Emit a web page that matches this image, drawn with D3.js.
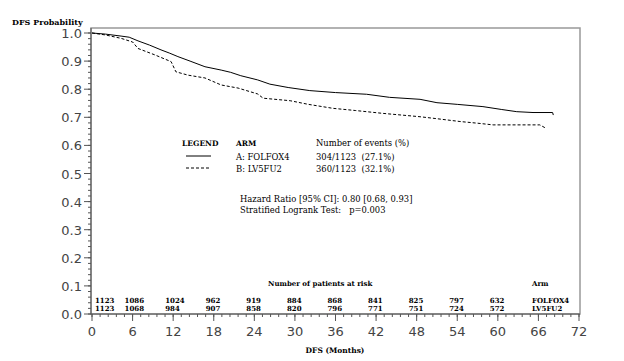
<!DOCTYPE html>
<html>
<head>
<meta charset="utf-8">
<script src="https://cdn.jsdelivr.net/npm/d3@7"></script>
<style>
  body { margin: 0; background: #fff; }
  .serif { font-family: "DejaVu Serif", serif; fill: #000; }
  .tick-label { font-family: "DejaVu Sans", sans-serif; font-size: 13px; fill: #444; }
</style>
</head>
<body>
<div id="chart"></div>
<script>
// Kaplan-Meier estimates
const monthsA = [0, 2, 4.3, 5.5, 6.8, 8.5, 10.2, 11.5, 12.7, 14.5, 16.7, 19.1, 20.5, 22, 24.5, 26.3, 29, 32.2, 36, 40.6, 44, 48.5, 51, 54, 57.8, 60.5, 62.8, 65.2, 68.1, 68.2];
const survA = [1.0, 0.996, 0.989, 0.985, 0.972, 0.957, 0.94, 0.928, 0.916, 0.9, 0.88, 0.868, 0.86, 0.848, 0.833, 0.818, 0.806, 0.795, 0.788, 0.782, 0.771, 0.764, 0.752, 0.746, 0.738, 0.728, 0.72, 0.717, 0.717, 0.708];
const monthsB = [0, 2, 4.3, 6.0, 6.8, 9.3, 11.7, 12.4, 14.2, 16.7, 19.1, 21.6, 24.5, 25.3, 29.3, 32, 35.6, 39, 43, 48.5, 51, 54.4, 57, 59.3, 66.2, 67.2];
const survB = [1.0, 0.993, 0.981, 0.968, 0.945, 0.922, 0.898, 0.862, 0.85, 0.84, 0.815, 0.804, 0.783, 0.768, 0.759, 0.746, 0.732, 0.724, 0.714, 0.702, 0.695, 0.685, 0.679, 0.673, 0.673, 0.66];

const riskTimes = [0, 6, 12, 18, 24, 30, 36, 42, 48, 54, 60];
const riskA = [1123, 1086, 1024, 962, 919, 884, 868, 841, 825, 797, 632];
const riskB = [1123, 1068, 984, 907, 858, 820, 796, 771, 751, 724, 572];

const armNames = ['A: FOLFOX4', 'B: LV5FU2'];
const armShort = ['FOLFOX4', 'LV5FU2'];
const events = ['304/1123  (27.1%)', '360/1123  (32.1%)'];

const W = 624, H = 361;
const plotLeft = 91, plotRight = 580, plotTop = 28, plotBottom = 314;

const svg = d3.select('#chart').append('svg')
  .attr('width', W)
  .attr('height', H);

svg.append('rect').attr('width', W).attr('height', H).attr('fill', '#fff');

const x = d3.scaleLinear().domain([0, 72]).range([plotLeft + 1, plotRight - 1]);
const y = d3.scaleLinear().domain([0, 1]).range([plotBottom, 33]);

// frame
svg.append('rect')
  .attr('x', plotLeft).attr('y', plotTop)
  .attr('width', plotRight - plotLeft).attr('height', plotBottom - plotTop)
  .attr('fill', 'none')
  .attr('stroke', '#999')
  .attr('stroke-width', 1.5);

// y axis
const yAxis = svg.append('g').attr('transform', `translate(${plotLeft},0)`);
yAxis.append('line').attr('y1', plotTop).attr('y2', plotBottom).attr('stroke', '#555');
yAxis.selectAll('.minor')
  .data(d3.range(0, 1.001, 0.02))
  .enter().append('line')
  .attr('x1', -3).attr('x2', 0)
  .attr('y1', d => y(d)).attr('y2', d => y(d))
  .attr('stroke', '#555');
const yMajor = d3.range(0, 11).map(i => i / 10);
yAxis.selectAll('.major')
  .data(yMajor)
  .enter().append('line')
  .attr('x1', -7).attr('x2', 0)
  .attr('y1', d => y(d)).attr('y2', d => y(d))
  .attr('stroke', '#555');
yAxis.selectAll('text')
  .data(yMajor)
  .enter().append('text')
  .attr('class', 'tick-label')
  .attr('x', -9)
  .attr('y', d => y(d) + 5)
  .attr('text-anchor', 'end')
  .text(d3.format('.1f'));

// x axis
const xAxis = svg.append('g').attr('transform', `translate(0,${plotBottom})`);
xAxis.append('line').attr('x1', plotLeft).attr('x2', plotRight).attr('stroke', '#555');
xAxis.selectAll('.minor')
  .data(d3.range(0, 72.01, 1.2))
  .enter().append('line')
  .attr('x1', d => x(d)).attr('x2', d => x(d))
  .attr('y1', 0).attr('y2', 3)
  .attr('stroke', '#555');
const xMajor = d3.range(0, 73, 6);
xAxis.selectAll('.major')
  .data(xMajor)
  .enter().append('line')
  .attr('x1', d => x(d)).attr('x2', d => x(d))
  .attr('y1', 0).attr('y2', 7)
  .attr('stroke', '#555');
xAxis.selectAll('text')
  .data(xMajor)
  .enter().append('text')
  .attr('class', 'tick-label')
  .attr('x', d => x(d))
  .attr('y', 22)
  .attr('text-anchor', 'middle')
  .text(d => d);

// axis titles
svg.append('text').attr('class', 'serif')
  .attr('x', 12).attr('y', 25)
  .style('font-size', '8px').style('font-weight', 'bold')
  .text('DFS Probability');
svg.append('text').attr('class', 'serif')
  .attr('x', 335).attr('y', 353)
  .attr('text-anchor', 'middle')
  .style('font-size', '7.5px').style('font-weight', 'bold')
  .text('DFS (Months)');

// curves
const line = d3.line()
  .x(d => x(d[0]))
  .y(d => y(d[1]));

svg.append('path')
  .datum(monthsA.map((m, i) => [m, survA[i]]))
  .attr('d', line)
  .attr('fill', 'none')
  .attr('stroke', '#000')
  .attr('stroke-width', 1);

svg.append('path')
  .datum(monthsB.map((m, i) => [m, survB[i]]))
  .attr('d', line)
  .attr('fill', 'none')
  .attr('stroke', '#000')
  .attr('stroke-width', 1)
  .attr('stroke-dasharray', '3,2');

// legend block
const lg = svg.append('g').attr('class', 'serif').style('font-size', '8.4px');
lg.append('text').attr('x', 182).attr('y', 146).style('font-weight', 'bold').style('font-size', '7.5px').text('LEGEND');
lg.append('text').attr('x', 236).attr('y', 146).style('font-weight', 'bold').style('font-size', '7.5px').text('ARM');
lg.append('text').attr('x', 316).attr('y', 146).text('Number of events (%)');
[0, 1].forEach(i => {
  const yy = 157 + i * 12;
  lg.append('line')
    .attr('x1', 186).attr('x2', 211)
    .attr('y1', yy - 1).attr('y2', yy - 1)
    .attr('stroke', '#000')
    .attr('stroke-dasharray', i ? '3,2' : null);
  lg.append('text').attr('x', 236).attr('y', yy + 3).text(armNames[i]);
  lg.append('text').attr('x', 316).attr('y', yy + 3).style('white-space', 'pre').text(events[i]);
});
lg.append('text').attr('x', 240).attr('y', 202).text('Hazard Ratio [95% CI]: 0.80 [0.68, 0.93]');
lg.append('text').attr('x', 240).attr('y', 213).style('white-space', 'pre').text('Stratified Logrank Test:   p=0.003');

// numbers at risk
const rg = svg.append('g').attr('class', 'serif').style('font-size', '7px').style('font-weight', 'bold');
rg.append('text').attr('x', 268).attr('y', 286).text('Number of patients at risk');
rg.append('text').attr('x', 532).attr('y', 286).text('Arm');
[riskA, riskB].forEach((row, r) => {
  rg.selectAll(null)
    .data(row)
    .enter().append('text')
    .attr('x', (d, i) => Math.max(x(riskTimes[i]) - 8, x(0) + 3))
    .attr('y', 303 + r * 8)
    .text(d => d);
  rg.append('text').attr('x', 532).attr('y', 303 + r * 8).text(armShort[r]);
});
</script>
</body>
</html>
